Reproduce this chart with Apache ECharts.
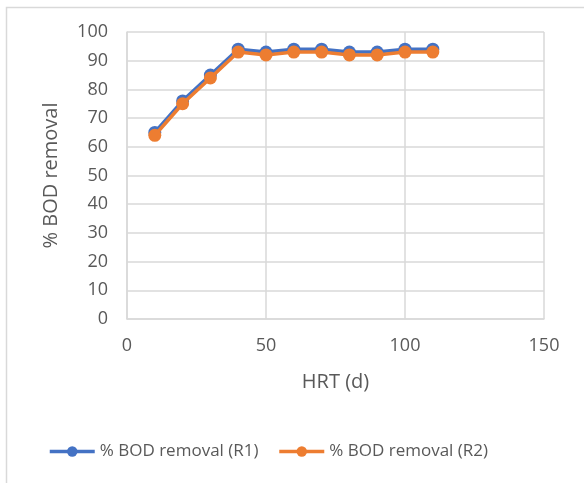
<!DOCTYPE html>
<html>
<head>
<meta charset="utf-8">
<script src="https://cdn.jsdelivr.net/npm/echarts@6/dist/echarts.min.js"></script>
<style>
  html, body { margin: 0; padding: 0; background: #fff; }
  #chart { width: 584px; height: 483px; }
</style>
</head>
<body>
<div id="chart"></div>
<script>
// Hydraulic retention time (days)
const hrtDays = [10, 20, 30, 40, 50, 60, 70, 80, 90, 100, 110];
// % BOD removal for each reactor
const removalR1 = [65, 76, 85, 94, 93, 94, 94, 93, 93, 94, 94];
const removalR2 = [64, 75, 84, 93, 92, 93, 93, 92, 92, 93, 93];
const seriesNames = ['% BOD removal (R1)', '% BOD removal (R2)'];

const FONT = '"Open Sans", "Liberation Sans", sans-serif';
const TEXT = '#595959';
const GRID = '#d9d9d9';

const toPairs = (xs, ys) => xs.map((x, i) => [x, ys[i]]);

const chart = echarts.init(document.getElementById('chart'), null, { renderer: 'canvas' });
chart.setOption({
  animation: false,
  backgroundColor: '#fff',
  textStyle: { fontFamily: FONT, color: TEXT },
  graphic: [{
    type: 'rect',
    left: 4, top: 5,
    shape: { width: 700, height: 600 },
    style: { fill: 'none', stroke: GRID, lineWidth: 1.5 },
    silent: true, z: -1
  }],
  grid: { left: 127, right: 40, top: 32, bottom: 164, containLabel: false },
  xAxis: {
    type: 'value', min: 0, max: 150, interval: 50,
    name: 'HRT (d)', nameLocation: 'middle', nameGap: 53,
    nameTextStyle: { fontFamily: FONT, fontSize: 20, color: TEXT },
    axisLine: { show: true, lineStyle: { color: GRID, width: 1.5 } },
    axisTick: { show: false },
    axisLabel: { fontFamily: FONT, fontSize: 18, color: TEXT, margin: 18 },
    splitLine: { show: true, lineStyle: { color: GRID, width: 1.5 } }
  },
  yAxis: {
    type: 'value', min: 0, max: 100, interval: 10,
    name: '% BOD removal', nameLocation: 'middle', nameGap: 66, nameRotate: 90,
    nameTextStyle: { fontFamily: FONT, fontSize: 20, color: TEXT },
    axisLine: { show: true, lineStyle: { color: GRID, width: 1.5 } },
    axisTick: { show: false },
    axisLabel: { fontFamily: FONT, fontSize: 18, color: TEXT, margin: 19 },
    splitLine: { show: true, lineStyle: { color: GRID, width: 1.5 } }
  },
  legend: {
    bottom: 18, left: 43,
    itemWidth: 45, itemHeight: 13, itemGap: 19,
    lineStyle: { width: 3.5 },
    textStyle: { fontFamily: FONT, fontSize: 17, color: TEXT },
    data: seriesNames
  },
  series: [
    {
      name: seriesNames[0], type: 'line',
      data: toPairs(hrtDays, removalR1),
      symbol: 'circle', symbolSize: 13,
      lineStyle: { color: '#4472C4', width: 3.5 },
      itemStyle: { color: '#4472C4' },
      z: 2
    },
    {
      name: seriesNames[1], type: 'line',
      data: toPairs(hrtDays, removalR2),
      symbol: 'circle', symbolSize: 13,
      lineStyle: { color: '#ED7D31', width: 3.5 },
      itemStyle: { color: '#ED7D31' },
      z: 3
    }
  ]
});
</script>
</body>
</html>
